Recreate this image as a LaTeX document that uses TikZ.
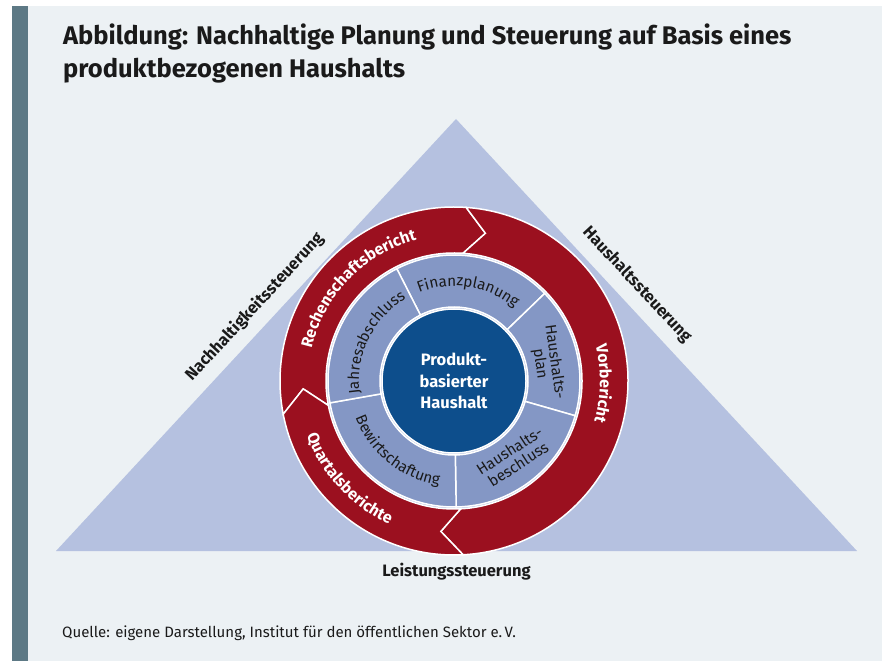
\documentclass[tikz,border=0pt]{standalone}
\usepackage{fontspec}
\setmainfont{Fira Sans}
\usetikzlibrary{decorations.text}

\definecolor{hgrund}{HTML}{ECF1F4}
\definecolor{balken}{HTML}{5D7985}
\definecolor{dreieck}{HTML}{B5C1E0}
\definecolor{rotring}{HTML}{9B101F}
\definecolor{blauring}{HTML}{8497C5}
\definecolor{kernblau}{HTML}{0D4E8C}
\definecolor{schrift}{HTML}{1A1A1A}

\tikzset{
  rotbogen/.style={decorate, decoration={text along path, text align=center, text color=white,
      text={|\fontsize{16}{19}\selectfont\bfseries|#1}}},
  blaubogen/.style={decorate, decoration={text along path, text align=center, text color=schrift,
      text={|\fontsize{15.3}{18}\selectfont|#1}}},
  seite/.style={font=\fontsize{16.5}{19}\selectfont\bfseries, text=schrift},
  segment/.style={draw=white, line width=1.5pt},
}

\begin{document}
\begin{tikzpicture}[x=1pt, y=1pt]
\useasboundingbox (0,0) rectangle (882,661);
\fill[white] (0,0) rectangle (882,661);
\fill[hgrund] (28,0) rectangle (882,655);
\fill[balken] (12,0) rectangle (28,655);

% Titel und Quelle
\node[anchor=base west, inner sep=0, text=schrift, font=\fontsize{25.5}{30}\selectfont\bfseries] (titel) at (63,616) {Abbildung: Nachhaltige Planung und Steuerung auf Basis eines};
\node[anchor=base west, inner sep=0, text=schrift, font=\fontsize{25.5}{30}\selectfont\bfseries] (titel2) at (63,583) {produktbezogenen Haushalts};
\node[anchor=base west, inner sep=0, text=schrift, font=\fontsize{15}{18}\selectfont] (quelle) at (62,24) {Quelle: eigene Darstellung, Institut für den öffentlichen Sektor e.\,V.};

% Dreieck
\coordinate (spitze) at (456,542);
\coordinate (links) at (56,110);
\coordinate (rechts) at (857,110);
\fill[dreieck] (links) -- (spitze) -- (rechts) -- cycle;
\path (links) -- (spitze) node[seite, pos=0.533, sloped, above=8pt] (nachhaltig) {Nachhaltigkeitssteuerung};
\path (spitze) -- (rechts) node[seite, pos=0.415, sloped, above=8pt] (haushalt) {Haushaltssteuerung};
\path (links) -- (rechts) node[seite, midway, below=9pt] (leistung) {Leistungssteuerung};

\begin{scope}[shift={(454,280)}]
% roter Ring
\fill[rotring, segment] (191:174) arc[start angle=191, end angle=86, radius=174] -- (78:151) -- (86:128)
  arc[start angle=86, end angle=191, radius=128] -- (183:151) -- cycle;
\fill[rotring, segment] (86:174) arc[start angle=86, end angle=-87, radius=174] -- (-95:151) -- (-87:128)
  arc[start angle=-87, end angle=86, radius=128] -- (78:151) -- cycle;
\fill[rotring, segment] (273:174) arc[start angle=273, end angle=191, radius=174] -- (183:151) -- (191:128)
  arc[start angle=191, end angle=273, radius=128] -- (265:151) -- cycle;
\path[rotbogen=Rechenschaftsbericht] (181:146) arc[start angle=181, end angle=91, radius=146];
\path[rotbogen=Vorbericht] (44:146) arc[start angle=44, end angle=-46, radius=146];
\path[rotbogen=Quartalsberichte] (178:157) arc[start angle=178, end angle=268, radius=157];

% innerer Ring
\foreach \a/\b in {117/44, 44/-16, -16/-89, -89/-170, 190/117}
  \fill[blauring, segment] (\a:126) arc[start angle=\a, end angle=\b, radius=126] -- (\b:74)
    arc[start angle=\b, end angle=\a, radius=74] -- cycle;
\path[blaubogen=Finanzplanung] (126:95) arc[start angle=126, end angle=36, radius=95];
\path[blaubogen=Jahresabschluss] (199:95) arc[start angle=199, end angle=109, radius=95];
\path[blaubogen=Bewirtschaftung] (186:105) arc[start angle=186, end angle=276, radius=105];
\node[rotate=-82, align=center, text=schrift, font=\fontsize{15.3}{15}\selectfont] (plan) at (11:95) {Haushalts-\\plan};
\node[rotate=33, align=center, text=schrift, font=\fontsize{15.3}{16}\selectfont] (beschluss) at (-52:97) {Haushalts-\\beschluss};

% Kern
\node[circle, fill=kernblau, draw=white, line width=1.5pt, minimum size=144pt, inner sep=0, text=white,
  align=center, font=\fontsize{16.5}{21.5}\selectfont\bfseries] (kern) at (0,0) {Produkt-\\basierter\\Haushalt};
\end{scope}
\end{tikzpicture}
\end{document}
